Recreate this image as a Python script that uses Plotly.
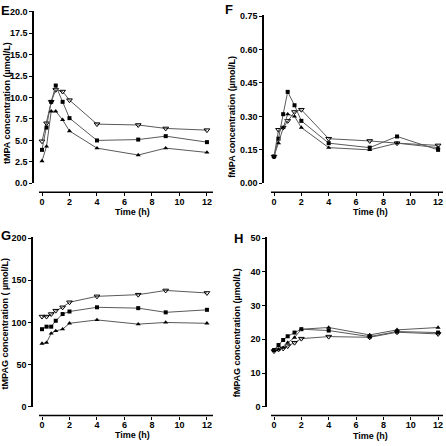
import plotly.graph_objects as go

time_h = [0, 0.33, 0.67, 1, 1.5, 2, 4, 7, 9, 12]

# Panel E: tMPA
E_down = [4.9, 7.0, 9.5, 10.9, 10.7, 9.7, 6.9, 6.8, 6.4, 6.2]
E_square = [3.9, 6.5, 9.5, 11.4, 9.5, 7.6, 5.0, 5.1, 5.5, 4.8]
E_up = [2.6, 4.3, 8.4, 8.4, 7.4, 6.1, 4.1, 3.3, 4.1, 3.6]

# Panel F: fMPA
F_down = [0.12, 0.24, 0.25, 0.28, 0.32, 0.33, 0.20, 0.19, 0.18, 0.17]
F_square = [0.12, 0.20, 0.31, 0.41, 0.35, 0.28, 0.18, 0.16, 0.21, 0.15]
F_up = [0.12, 0.18, 0.25, 0.31, 0.30, 0.25, 0.16, 0.15, 0.18, 0.16]

# Panel G: tMPAG
G_down = [107, 107, 110, 114, 118, 124, 131, 133, 138, 135]
G_square = [92, 95, 95, 102, 110, 113, 118, 117, 112, 115]
G_up = [75, 76, 87, 90, 92, 99, 103, 98, 100, 99]

# Panel H: fMPAG
H_down = [16.5, 17.0, 17.3, 18.0, 19.0, 20.2, 20.8, 20.6, 22.1, 21.6]
H_square = [16.8, 18.3, 19.8, 20.9, 22.0, 23.0, 22.6, 20.8, 22.3, 22.0]
H_up = [16.8, 17.0, 17.5, 19.0, 20.5, 23.0, 23.5, 21.3, 22.8, 23.5]

x_ticks = [0, 2, 4, 6, 8, 10, 12]
W = H = 446.0
FONT = "Liberation Sans, Arial, sans-serif"


def px(v):
    return v / W


def py(v):
    return 1 - v / H


panels = [
    dict(letter="E", data=(E_down, E_square, E_up), xdom=(39, 213), ydom=(7, 183),
         xr=(-0.218, 12.44), yr=(0, 20.11), ypos=33, xpos=192, dtick=2.5, fmt=".1f",
         ytitle="tMPA concentration (µmol/L)", ytp=(7, 101), lp=(5, 7), xtp=(132, 212)),
    dict(letter="F", data=(F_down, F_square, F_up), xdom=(271, 443), ydom=(11, 183),
         xr=(-0.22, 12.36), yr=(0, 0.7557), ypos=263, xpos=192, dtick=0.15, fmt=".2f",
         ytitle="fMPA concentration (µmol/L)", ytp=(232, 115), lp=(229, 6), xtp=(370, 212)),
    dict(letter="G", data=(G_down, G_square, G_up), xdom=(39, 213), ydom=(238, 411),
         xr=(-0.218, 12.44), yr=(0, 201.2), ypos=32, xpos=420, dtick=50, fmt="d",
         ytitle="tMPAG concentration ( µmol/L)", ytp=(5, 326), lp=(6, 236), xtp=(132, 440)),
    dict(letter="H", data=(H_down, H_square, H_up), xdom=(271, 443), ydom=(238, 411),
         xr=(-0.22, 12.36), yr=(0, 50.3), ypos=266, xpos=420, dtick=10, fmt="d",
         ytitle="fMPAG concentration (µmol/L)", ytp=(237, 336), lp=(238, 239), xtp=(370, 441)),
]

fig = go.Figure()
annotations = []
shapes = []
line_col = "#5a5a5a"
marker_specs = [
    dict(symbol="triangle-down-open", size=5, color="black", line=dict(color="black", width=1)),
    dict(symbol="square", size=4, color="black"),
    dict(symbol="triangle-up", size=4.5, color="black"),
]

for i, p in enumerate(panels):
    n = "" if i == 0 else str(i + 1)
    xa, ya = "x" + n, "y" + n
    for vals, ms in zip(p["data"], marker_specs):
        fig.add_trace(go.Scatter(x=time_h, y=vals, xaxis=xa, yaxis=ya, mode="lines+markers",
                                 line=dict(color=line_col, width=1), marker=ms,
                                 showlegend=False, cliponaxis=False))
    tickfont = dict(family=FONT, size=9, color="black", weight="bold")
    fig.layout["xaxis" + n] = dict(
        domain=[px(p["xdom"][0]), px(p["xdom"][1])], range=list(p["xr"]),
        anchor="free", position=py(p["xpos"]), tickvals=x_ticks,
        showline=False, ticks="outside", ticklen=3, ticklabelstandoff=-2,
        tickwidth=1.2, tickcolor="black", showgrid=False, zeroline=False, tickfont=tickfont,
    )
    fig.layout["yaxis" + n] = dict(
        domain=[py(p["ydom"][1]), py(p["ydom"][0])], range=list(p["yr"]),
        anchor="free", position=px(p["ypos"]), dtick=p["dtick"], tick0=0, tickformat=p["fmt"],
        showline=True, linecolor="black", linewidth=1.5, ticks="outside", ticklen=3,
        tickwidth=1.2, tickcolor="black", showgrid=False, zeroline=False, tickfont=tickfont,
    )
    # x-axis baseline spanning the x-axis domain (free axis lines span the whole page)
    shapes.append(dict(type="line", xref="paper", yref="paper", layer="above",
                       x0=px(p["xdom"][0]), x1=px(p["xdom"][1]),
                       y0=py(p["xpos"]), y1=py(p["xpos"]),
                       line=dict(color="black", width=1.5)))
    annotations.append(dict(text=p["ytitle"], x=px(p["ytp"][0]), y=py(p["ytp"][1]),
                            xref="paper", yref="paper", textangle=-90, showarrow=False,
                            xanchor="center", yanchor="middle",
                            font=dict(family=FONT, size=9, color="black", weight="bold")))
    annotations.append(dict(text="Time (h)", x=px(p["xtp"][0]), y=py(p["xtp"][1]),
                            xref="paper", yref="paper", showarrow=False,
                            xanchor="center", yanchor="middle",
                            font=dict(family=FONT, size=9, color="black", weight="bold")))
    annotations.append(dict(text=p["letter"], x=px(p["lp"][0]), y=py(p["lp"][1]),
                            xref="paper", yref="paper", showarrow=False,
                            xanchor="center", yanchor="middle",
                            font=dict(family=FONT, size=13, color="black", weight="bold")))

fig.update_layout(width=446, height=446, margin=dict(l=0, r=0, t=0, b=0),
                  paper_bgcolor="white", plot_bgcolor="white",
                  annotations=annotations, shapes=shapes)

fig.write_html("out.html", config={"displayModeBar": False},
               post_script="document.body.style.margin='0';document.body.style.padding='0';"
                           "document.body.style.overflow='hidden';")
